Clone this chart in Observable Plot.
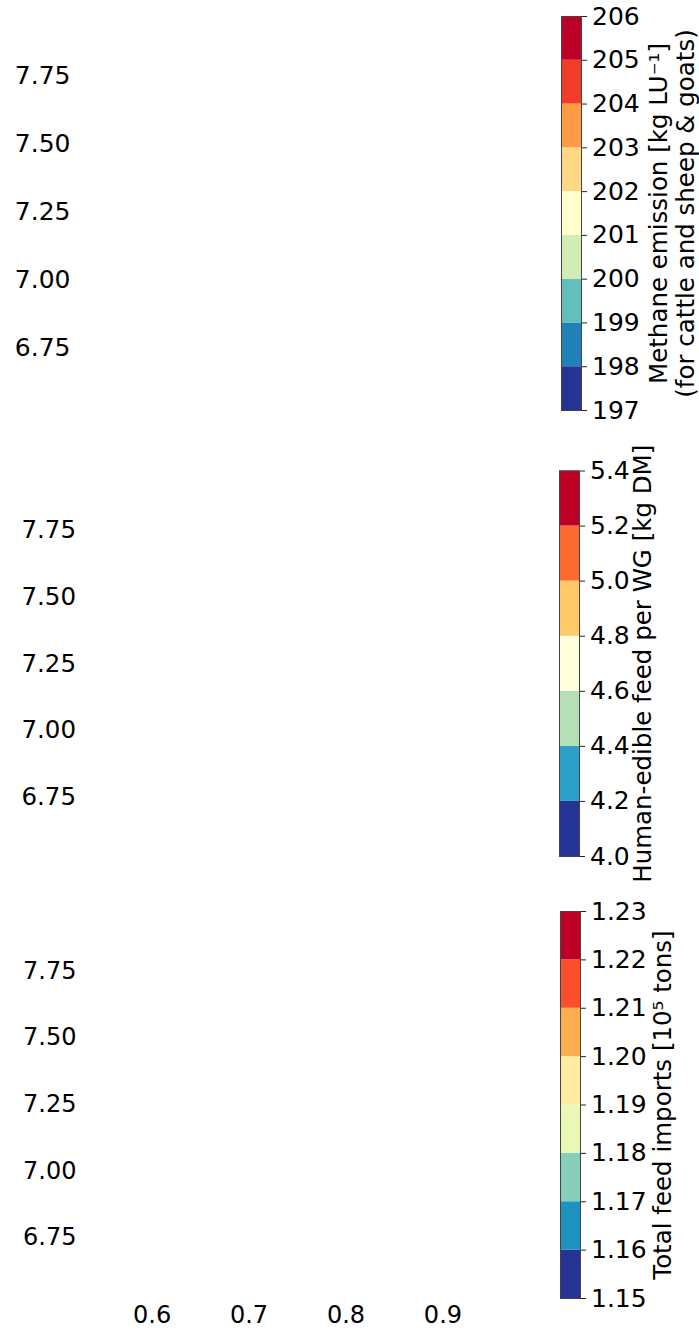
<!DOCTYPE html>
<html><head><meta charset="utf-8">
<script src="https://cdn.jsdelivr.net/npm/d3@7"></script>
<script src="https://cdn.jsdelivr.net/npm/@observablehq/plot@0.6"></script>
<style>
body{margin:0;background:#fff;}
#wrap{position:relative;width:699px;height:1330px;overflow:hidden;background:#fff;}
#wrap > svg{position:absolute;margin:0;}
</style></head><body><div id="wrap"></div>
<script>
// ---- data ----
const yTicks = [6.75, 7.00, 7.25, 7.50, 7.75];
const xTicks = [0.6, 0.7, 0.8, 0.9];

const methaneEdges = [197, 198, 199, 200, 201, 202, 203, 204, 205, 206];
const methaneColors = ["#253494", "#2080b8", "#62bfbb", "#d3ebb5", "#ffffcc", "#fed884", "#fd9c44", "#f23d29", "#bd0026"];
const methaneLabel = ["Methane emission [kg LU\u207B\u00B9]", "(for cattle and sheep & goats)"];

const feedEdges = [4.0, 4.2, 4.4, 4.6, 4.8, 5.0, 5.2, 5.4];
const feedColors = ["#253494", "#2ca0c6", "#b5e0b7", "#ffffdd", "#fec966", "#fd6a31", "#bd0026"];
const feedLabel = ["Human-edible feed per WG [kg DM]"];

const importEdges = [1.15, 1.16, 1.17, 1.18, 1.19, 1.20, 1.21, 1.22, 1.23];
const importColors = ["#253494", "#1d91c0", "#86cfbb", "#ebf7b5", "#ffeca0", "#fdae50", "#fc4e2a", "#bd0026"];
const importLabel = ["Total feed imports [10\u2075 tons]"];

// ---- drawing ----
const wrap = document.getElementById("wrap");
const FONT = "DejaVu Sans";

function place(svg, left, top) {
  svg.style.left = left + "px";
  svg.style.top = top + "px";
  wrap.appendChild(svg);
}

function panel(cfg) {
  const marks = [
    Plot.axisY(yTicks, {tickSize: 0, tickPadding: cfg.pad, dx: cfg.dx, tickFormat: d3.format(".2f"), label: null, fontSize: cfg.fs})
  ];
  if (cfg.showX) marks.push(Plot.axisX(xTicks, {tickSize: 0, tickPadding: 2, tickFormat: d3.format(".1f"), label: null, fontSize: cfg.fs}));
  const svg = Plot.plot({
    width: 540, height: cfg.h,
    marginTop: cfg.mt, marginBottom: cfg.mb, marginLeft: 74, marginRight: 20,
    x: {domain: [0.52, 0.98], axis: cfg.showX ? undefined : null},
    y: {domain: [6.5, 8.0]},
    style: {fontFamily: FONT, fontSize: cfg.fs + "px", color: "black", background: "transparent", overflow: "visible"},
    marks
  });
  place(svg, 0, cfg.top);
}

function colorbar(cfg) {
  const bins = cfg.edges.slice(0, -1).map((e, i) => ({y1: e, y2: cfg.edges[i + 1], fill: cfg.colors[i]}));
  const svg = Plot.plot({
    width: 138, height: cfg.h,
    marginTop: cfg.mt, marginBottom: cfg.mb, marginLeft: 0, marginRight: 118,
    y: {domain: [cfg.edges[0], cfg.edges[cfg.edges.length - 1]]},
    style: {fontFamily: FONT, fontSize: "25px", color: "black", background: "transparent", overflow: "visible"},
    marks: [
      Plot.rect(bins, {y1: "y1", y2: "y2", fill: "fill"}),
      Plot.frame({stroke: "#444", strokeWidth: 1}),
      Plot.axisY(cfg.edges, {anchor: "right", tickSize: 5, tickPadding: 5.5, tickFormat: d3.format(cfg.fmt), label: null, fontSize: 25, stroke: "#222"}),
      Plot.text([cfg.label.join("\n")], {text: d => d, frameAnchor: "middle", rotate: -90, dx: cfg.labelDx, lineHeight: 1.1, fontSize: 24.5, fill: "black"})
    ]
  });
  place(svg, cfg.left, cfg.top);
}

panel({top: 0, h: 440, mt: 7, mb: 25, pad: 4, dx: 0, fs: 25, showX: false});
panel({top: 450, h: 440, mt: 13.3, mb: 26.7, pad: 4, dx: 5.5, fs: 24.5, showX: false});
panel({top: 890, h: 440, mt: 13.7, mb: 26.3, pad: 4, dx: 6, fs: 24, showX: true});

colorbar({edges: methaneEdges, colors: methaneColors, label: methaneLabel, fmt: "d", left: 561, top: 0, h: 430, mt: 16, mb: 20, labelDx: 100.5});
colorbar({edges: feedEdges, colors: feedColors, label: feedLabel, fmt: ".1f", left: 559, top: 450, h: 430, mt: 20.5, mb: 24, labelDx: 73});
colorbar({edges: importEdges, colors: importColors, label: importLabel, fmt: ".2f", left: 560, top: 890, h: 440, mt: 21, mb: 32, labelDx: 92});
</script>
</body></html>
